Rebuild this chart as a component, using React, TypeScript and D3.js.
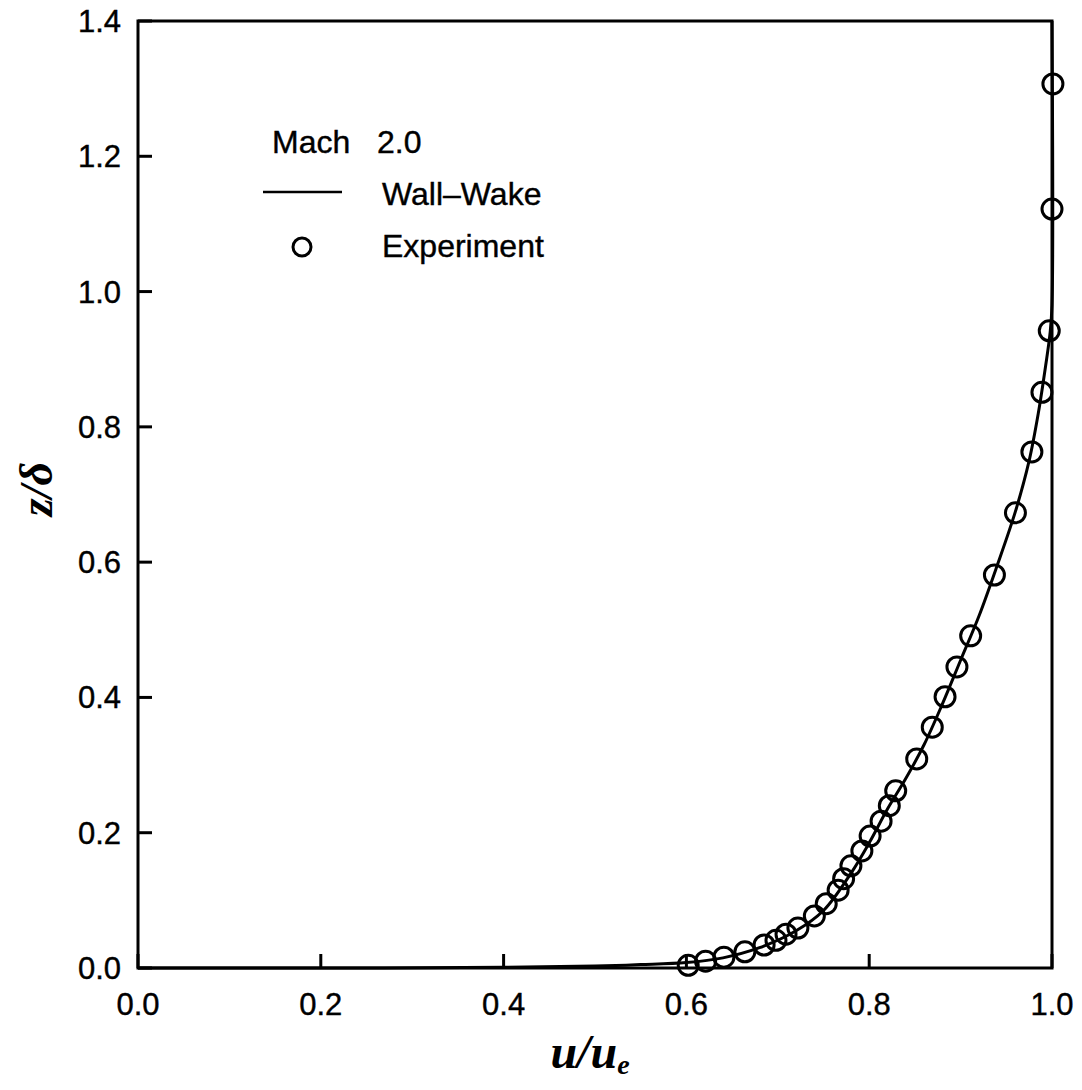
import React from "react";
import * as d3 from "d3";

const expU = [0.602, 0.621, 0.641, 0.664, 0.685, 0.698, 0.709, 0.722, 0.740, 0.753, 0.766, 0.772, 0.780, 0.792, 0.801, 0.813, 0.822, 0.829, 0.852, 0.869, 0.883, 0.896, 0.911, 0.937, 0.960, 0.978, 0.989, 0.997, 1.0, 1.001];
const expZ = [0.004, 0.010, 0.016, 0.024, 0.034, 0.041, 0.050, 0.059, 0.077, 0.095, 0.115, 0.132, 0.151, 0.173, 0.195, 0.217, 0.240, 0.262, 0.309, 0.356, 0.401, 0.445, 0.491, 0.581, 0.673, 0.763, 0.851, 0.942, 1.122, 1.307];

const fitU = [0.0, 0.2, 0.4, 0.5, 0.55, 0.6, 0.64, 0.68, 0.72, 0.75, 0.78, 0.80, 0.82, 0.84, 0.86, 0.88, 0.90, 0.92, 0.94, 0.96, 0.975, 0.985, 0.993, 0.998, 1.0, 1.0];
const fitZ = [0.0, 0.0, 0.001, 0.003, 0.005, 0.008, 0.015, 0.03, 0.055, 0.085, 0.14, 0.185, 0.235, 0.28, 0.33, 0.39, 0.455, 0.52, 0.595, 0.675, 0.75, 0.82, 0.89, 0.94, 0.98, 1.4];

const xTicks = [0.0, 0.2, 0.4, 0.6, 0.8, 1.0];
const yTicks = [0.0, 0.2, 0.4, 0.6, 0.8, 1.0, 1.2, 1.4];

const L = 138, R = 1052, T = 21, B = 968;
const font = "'Liberation Sans', Arial, sans-serif";

export default function App() {
  const x = d3.scaleLinear().domain([0, 1]).range([L, R]);
  const y = d3.scaleLinear().domain([0, 1.4]).range([B, T]);
  const fit = fitU.map((u, i) => [u, fitZ[i]] as [number, number]);
  const line = d3
    .line<[number, number]>()
    .x((d) => x(d[0]))
    .y((d) => y(d[1]))
    .curve(d3.curveCatmullRom.alpha(0.5));
  const fmt = d3.format(".1f");
  return (
    <div style={{ position: "absolute", left: 0, top: 0 }}>
      <svg width={1082} height={1090} style={{ display: "block", background: "#fff" }}>
        <path d={line(fit) || ""} fill="none" stroke="#000" strokeWidth={3} />
        {expU.map((u, i) => (
          <circle key={i} cx={x(u)} cy={y(expZ[i])} r={10} fill="none" stroke="#000" strokeWidth={3} />
        ))}
        <rect x={L} y={T} width={R - L} height={B - T} fill="none" stroke="#000" strokeWidth={3} />
        {xTicks.map((t) => (
          <g key={"x" + t}>
            <line x1={x(t)} x2={x(t)} y1={B} y2={B - 14} stroke="#000" strokeWidth={3} />
            <text x={x(t)} y={1015} textAnchor="middle" fontFamily={font} fontSize={31} stroke="#000" strokeWidth={0.4}>
              {fmt(t)}
            </text>
          </g>
        ))}
        {yTicks.map((t) => (
          <g key={"y" + t}>
            <line x1={L} x2={L + 14} y1={y(t)} y2={y(t)} stroke="#000" strokeWidth={3} />
            <text x={121} y={y(t) + 11} textAnchor="end" fontFamily={font} fontSize={31} stroke="#000" strokeWidth={0.4}>
              {fmt(t)}
            </text>
          </g>
        ))}
        <text x={590} y={1068} textAnchor="middle" fontFamily="'Liberation Serif', serif" fontStyle="italic" fontWeight="bold" fontSize={48}>
          u/u<tspan fontSize={28} dy={6}>e</tspan>
        </text>
        <text
          transform="translate(52,489) rotate(-90)"
          textAnchor="middle"
          fontFamily="'Liberation Serif', serif"
          fontStyle="italic"
          fontWeight="bold"
          fontSize={46}
        >
          z/δ
        </text>
        <text x={272} y={153} fontFamily={font} fontSize={32} stroke="#000" strokeWidth={0.4}>Mach</text>
        <text x={377} y={153} fontFamily={font} fontSize={32} stroke="#000" strokeWidth={0.4}>2.0</text>
        <line x1={263} x2={342} y1={192} y2={192} stroke="#000" strokeWidth={2.5} />
        <text x={382} y={205} fontFamily={font} fontSize={32} stroke="#000" strokeWidth={0.4}>Wall–Wake</text>
        <circle cx={302} cy={247} r={9} fill="none" stroke="#000" strokeWidth={3} />
        <text x={382} y={257} fontFamily={font} fontSize={32} stroke="#000" strokeWidth={0.4}>Experiment</text>
      </svg>
    </div>
  );
}
